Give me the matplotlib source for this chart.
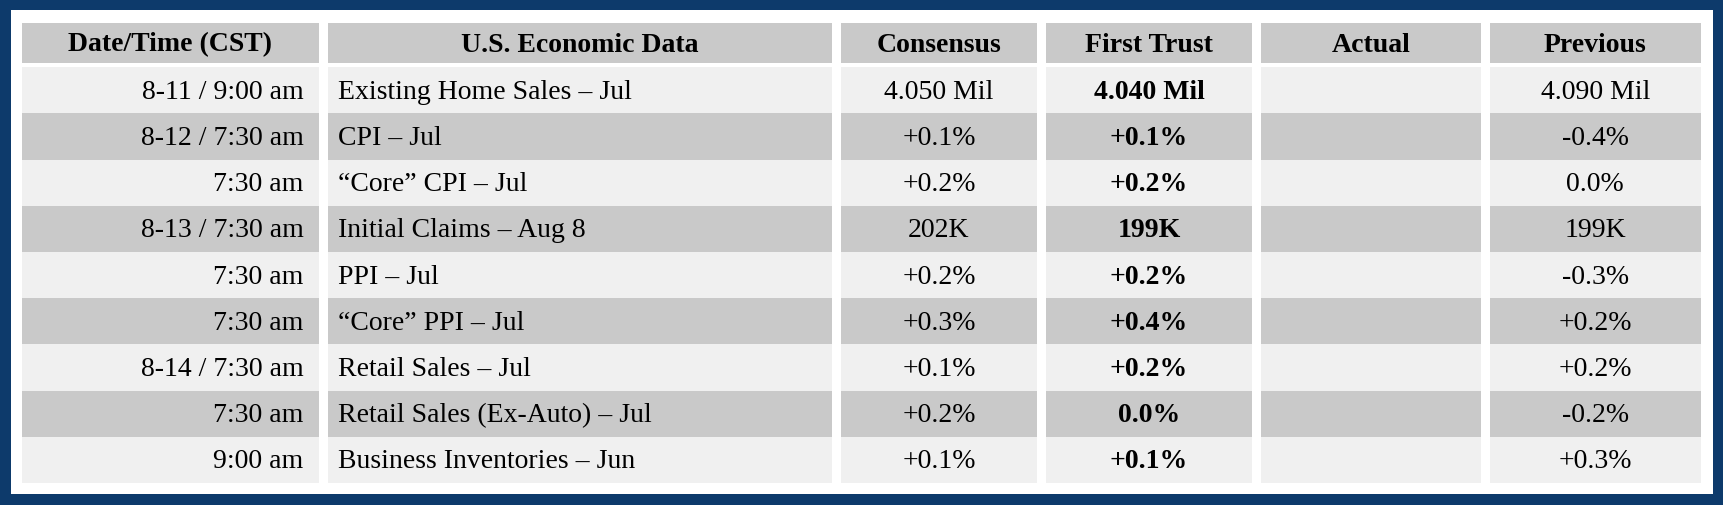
import matplotlib
matplotlib.use("Agg")
import matplotlib.pyplot as plt
from matplotlib.patches import Rectangle

headers = ["Date/Time (CST)", "U.S. Economic Data", "Consensus", "First Trust", "Actual", "Previous"]
dates = ["8-11 / 9:00 am", "8-12 / 7:30 am", "7:30 am", "8-13 / 7:30 am", "7:30 am", "7:30 am",
         "8-14 / 7:30 am", "7:30 am", "9:00 am"]
events = ["Existing Home Sales – Jul", "CPI – Jul", "“Core” CPI – Jul", "Initial Claims – Aug 8",
          "PPI – Jul", "“Core” PPI – Jul", "Retail Sales – Jul", "Retail Sales (Ex-Auto) – Jul",
          "Business Inventories – Jun"]
consensus = ["4.050 Mil", "+0.1%", "+0.2%", "202K", "+0.2%", "+0.3%", "+0.1%", "+0.2%", "+0.1%"]
first_trust = ["4.040 Mil", "+0.1%", "+0.2%", "199K", "+0.2%", "+0.4%", "+0.2%", "0.0%", "+0.1%"]
actual = [""] * 9
previous = ["4.090 Mil", "-0.4%", "0.0%", "199K", "-0.3%", "+0.2%", "+0.2%", "-0.2%", "+0.3%"]

plt.rcParams["font.family"] = "serif"
plt.rcParams["font.serif"] = ["Liberation Serif"]

W, H = 1568, 460
fig = plt.figure(figsize=(17.24, 5.06), dpi=100)
ax = fig.add_axes([0, 0, 1, 1])
ax.set_xlim(0, W); ax.set_ylim(H, 0); ax.axis("off")
navy = "#0d3a6b"
fig.patch.set_facecolor(navy)
ax.add_patch(Rectangle((10, 10), W - 20, H - 20, facecolor="white", edgecolor="none"))

cols = [(20, 290), (298, 757), (765, 943), (951, 1139), (1147, 1347), (1355, 1547)]
dark, light = "#c9c9c9", "#f0f0f0"
fs = 20

for (x0, x1), h in zip(cols, headers):
    ax.add_patch(Rectangle((x0, 22), x1 - x0, 36, facecolor=dark, edgecolor="none"))
    ax.text((x0 + x1) / 2, 41, h, ha="center", va="center", fontsize=fs, fontweight="bold")

top, rh = 62, 42
data = list(zip(dates, events, consensus, first_trust, actual, previous))
for i, row in enumerate(data):
    y0 = top + i * rh
    c = light if i % 2 == 0 else dark
    yc = y0 + rh / 2 + 1
    for j, ((x0, x1), t) in enumerate(zip(cols, row)):
        ax.add_patch(Rectangle((x0, y0), x1 - x0, rh, facecolor=c, edgecolor="none"))
        if j == 0:
            ax.text(x1 - 14, yc, t, ha="right", va="center", fontsize=fs)
        elif j == 1:
            ax.text(x0 + 9, yc, t, ha="left", va="center", fontsize=fs)
        else:
            ax.text((x0 + x1) / 2, yc, t, ha="center", va="center", fontsize=fs,
                    fontweight="bold" if j == 3 else "normal")

fig.savefig("out.png", dpi=100, facecolor=navy)
